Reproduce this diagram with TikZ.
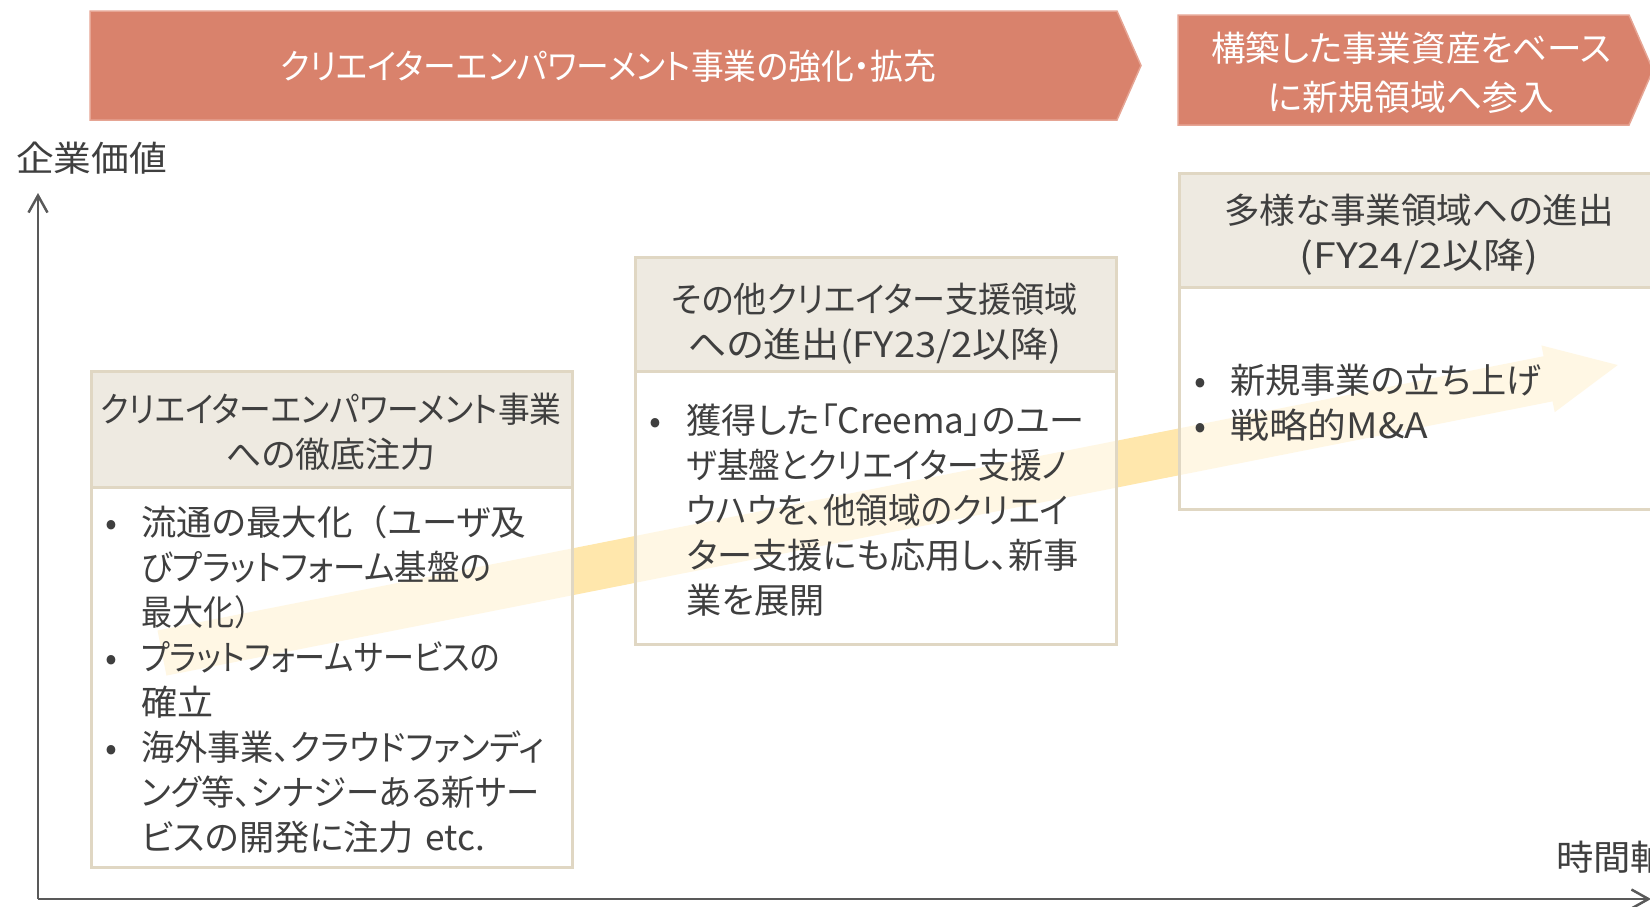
\documentclass[tikz,border=0pt]{standalone}
\usepackage{graphicx}
\usepackage{fontspec}
\setmainfont{Noto Sans CJK JP}[RawFeature=+palt]
\newfontfamily\cjkfw{Noto Sans CJK JP}
\usetikzlibrary{arrows.meta}
\definecolor{bannerc}{HTML}{D9826C}
\definecolor{bannerline}{HTML}{E6A594}
\definecolor{hdrfill}{HTML}{EEEAE1}
\definecolor{boxline}{HTML}{E0D7C3}
\definecolor{txtc}{HTML}{3F3F3F}
\definecolor{axisc}{HTML}{595959}
\definecolor{arrowc}{HTML}{FFE7AC}
\newsavebox\lnbox
\newcommand\fitw[2]{\sbox\lnbox{#2}\scalebox{\fpeval{(#1)/\wd\lnbox}}[1]{\usebox\lnbox}}
\begin{document}
\begin{tikzpicture}[x=1pt,y=-1pt,
  banner/.style={fill=bannerc, draw=bannerline, line width=1.5pt},
  hdr/.style={draw=boxline, line width=2.5pt, fill=hdrfill, inner sep=0pt, anchor=north west},
  bodybox/.style={draw=boxline, line width=2.5pt, fill=white, fill opacity=0.68, draw opacity=1, text opacity=1, inner sep=0pt, anchor=north west},
  txt/.style={text=txtc, inner sep=0pt, font=\fontsize{35}{45}\selectfont},
  ctxt/.style={txt, anchor=base, text width=520pt, align=center},
  ltxt/.style={txt, anchor=base west, text width=520pt, align=left},
  dot/.style={txt, anchor=base},
  wtxt/.style={text=white, inner sep=0pt, anchor=base, text width=700pt, align=center, font=\fontsize{35}{48.5}\selectfont},
  axis/.style={draw=axisc, line width=2.5pt, -{Straight Barb[length=17pt,width=19pt,line width=2.5pt]}}
]
\useasboundingbox (0,0) rectangle (1650,906);

% banners
\draw[banner] (90,11) -- (1117,11) -- (1141,65.5) -- (1117,120) -- (90,120) -- cycle;
\node[wtxt] (b1t) at (608,79) {\fitw{656pt}{クリエイターエンパワーメント事業の強化・拡充}};
\draw[banner] (1178,15) -- (1629,15) -- (1653,70) -- (1629,125) -- (1178,125) -- cycle;
\node[wtxt] (b2t) at (1411,61.5) {\fitw{400pt}{構築した事業資産をベース}\\\fitw{286pt}{に新規領域へ参入}};

% axes
\coordinate (origin) at (38,899);
\coordinate (ytop) at (38,193);
\coordinate (xend) at (1651,899);
\draw[axis] (origin) -- (ytop);
\draw[axis] (origin) -- (xend);
\node[txt, anchor=base west] (ylab) at (16,171) {\fitw{151pt}{企業価値}};
\node[txt, anchor=base west] (xlab) at (1556,870) {\fitw{112pt}{時間軸}};

% growth arrow
\begin{scope}[shift={(162,653)}, rotate=11.19]
\fill[arrowc] (0,-23) -- (1413,-23) -- (1413,-34) -- (1484,0) -- (1413,34) -- (1413,23) -- (0,23) -- cycle;
\end{scope}

% box 1
\node[hdr, minimum width=481pt, minimum height=116pt] (h1) at (90,370) {};
\node[bodybox, minimum width=481pt, minimum height=380pt] (d1) at (90,486) {};
\node[ctxt] (h1t) at (331,422) {\fitw{461pt}{クリエイターエンパワーメント事業}\\\fitw{209pt}{への徹底注力}};
\node[dot] (d1b1) at (111,535) {•};
\node[ltxt] (d1i1) at (141,535) {\fitw{385pt}{流通の最大化{\cjkfw （}ユーザ及}\\\fitw{350pt}{びプラットフォーム基盤の}\\\fitw{124pt}{最大化{\cjkfw ）}}};
\node[dot] (d1b2) at (111,670) {•};
\node[ltxt] (d1i2) at (141,670) {\fitw{359pt}{プラットフォームサービスの}\\\fitw{72pt}{確立}};
\node[dot] (d1b3) at (111,760) {•};
\node[ltxt] (d1i3) at (141,760) {\fitw{403pt}{海外事業、クラウドファンディ}\\\fitw{398pt}{ング等、シナジーある新サー}\\\fitw{344pt}{ビスの開発に注力 etc.}};

% box 2
\node[hdr, minimum width=481pt, minimum height=114pt] (h2) at (634,256) {};
\node[bodybox, minimum width=481pt, minimum height=273pt] (d2) at (634,370) {};
\node[ctxt] (h2t) at (875,312) {\fitw{406pt}{その他クリエイター支援領域}\\\fitw{373pt}{への進出(FY23/2以降)}};
\node[dot] (d2b1) at (655,433) {•};
\node[ltxt] (d2i1) at (686.5,433) {\fitw{398pt}{獲得した「Creema」のユー}\\\fitw{380pt}{ザ基盤とクリエイター支援ノ}\\\fitw{382pt}{ウハウを、他領域のクリエイ}\\\fitw{392pt}{ター支援にも応用し、新事}\\\fitw{138pt}{業を展開}};

% box 3
\node[hdr, minimum width=482pt, minimum height=114pt] (h3) at (1178,172) {};
\node[bodybox, minimum width=482pt, minimum height=222pt] (d3) at (1178,286) {};
\node[ctxt] (h3t) at (1419,223.5) {\fitw{390pt}{多様な事業領域への進出}\\\fitw{239pt}{(FY24/2以降)}};
\node[dot] (d3b1) at (1200,393) {•};
\node[ltxt] (d3i1) at (1230,393) {\fitw{311pt}{新規事業の立ち上げ}};
\node[dot] (d3b2) at (1200,438) {•};
\node[ltxt] (d3i2) at (1230,438) {\fitw{198pt}{戦略的M\&A}};
\end{tikzpicture}
\end{document}
